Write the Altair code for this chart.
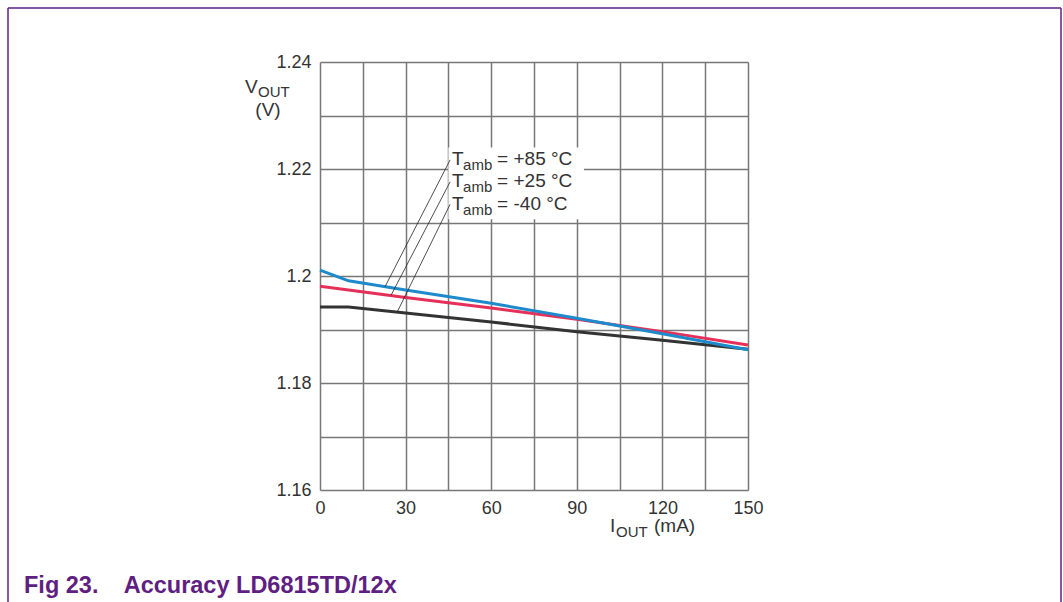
import altair as alt
import pandas as pd

# ---- data ----
current_ma = [0, 10, 30, 60, 90, 120, 150]
v_p85 = [1.2011, 1.1991, 1.1974, 1.1949, 1.1921, 1.1892, 1.1862]
v_p25 = [1.1981, 1.1974, 1.1960, 1.1940, 1.1919, 1.1896, 1.1871]
v_m40 = [1.1942, 1.1942, 1.1931, 1.1914, 1.1896, 1.1880, 1.1863]

x_ticks = [0, 15, 30, 45, 60, 75, 90, 105, 120, 135, 150]
y_ticks = [1.16, 1.17, 1.18, 1.19, 1.2, 1.21, 1.22, 1.23, 1.24]
y_label_text = ["1.16", "1.18", "1.2", "1.22", "1.24"]

label_names = ["= +85 °C", "= +25 °C", "= -40 °C"]
label_x = [46.3, 46.3, 46.3]
label_v = [1.2208, 1.2166, 1.2124]
leader_x1 = [45.6, 45.6, 45.6]
leader_v1 = [1.2217, 1.2176, 1.2134]
leader_x2 = [22.8, 24.9, 27.0]
leader_v2 = [1.1980, 1.1964, 1.1932]
box_x = [45.0]
box_x2 = [92.5]
box_v = [1.2240]
box_v2 = [1.2106]

PURPLE = "#5f1f82"
FONT = "Liberation Sans"
GRID = "#777777"

xs = alt.Scale(domain=[0, 150], nice=False, zero=False)
ys = alt.Scale(domain=[1.16, 1.24], nice=False, zero=False)

x_axis = alt.Axis(values=x_ticks, title=None, grid=True, ticks=False, domain=False,
                  labelExpr="datum.value % 30 == 0 ? datum.label : ''",
                  labelFlush=False, labelOverlap=False, labelPadding=9,
                  labelFontSize=18, labelFont=FONT, labelColor="#333333",
                  gridColor=GRID, gridWidth=1.5)
y_axis = alt.Axis(values=y_ticks, title=None, grid=True, ticks=False, domain=False,
                  labelExpr="indexof(" + str(y_label_text) + ", format(datum.value, '.3~f')) >= 0 ? format(datum.value, '.3~f') : ''",
                  labelFlush=False, labelOverlap=False, labelPadding=9,
                  labelFontSize=18, labelFont=FONT, labelColor="#333333",
                  gridColor=GRID, gridWidth=1.5)


def X(field):
    return alt.X(field, type="quantitative", scale=xs, axis=x_axis)


def Y(field):
    return alt.Y(field, type="quantitative", scale=ys, axis=y_axis)


def series_chart(vals, color):
    d = pd.DataFrame({"i": current_ma, "v": vals})
    return alt.Chart(d).mark_line(color=color, strokeWidth=3).encode(x=X("i"), y=Y("v"))


box = alt.Chart(pd.DataFrame({"x": box_x, "x2": box_x2, "v": box_v, "v2": box_v2})).mark_rect(
    color="white").encode(x=X("x"), x2="x2", y=Y("v"), y2="v2")

leaders = alt.Chart(pd.DataFrame({"x": leader_x1, "x2": leader_x2, "v": leader_v1, "v2": leader_v2})).mark_rule(
    color="#222222", strokeWidth=0.8).encode(x=X("x"), x2="x2", y=Y("v"), y2="v2")

lab_df = pd.DataFrame({"x": label_x, "v": label_v, "rest": label_names,
                       "T": ["T"] * 3, "amb": ["amb"] * 3})
lab_T = alt.Chart(lab_df).mark_text(align="left", baseline="alphabetic", fontSize=19, font=FONT,
                                    color="#333333").encode(x=X("x"), y=Y("v"), text="T")
lab_amb = alt.Chart(lab_df).mark_text(align="left", baseline="alphabetic", fontSize=15, font=FONT,
                                      color="#333333", dx=11, dy=5).encode(x=X("x"), y=Y("v"), text="amb")
lab_rest = alt.Chart(lab_df).mark_text(align="left", baseline="alphabetic", fontSize=19, font=FONT,
                                       color="#333333", dx=45).encode(x=X("x"), y=Y("v"), text="rest")

one = pd.DataFrame({"a": [0]})


def ptext(txt, x, y, size, color="#333333", weight="normal", align="left"):
    return alt.Chart(one).mark_text(text=txt, align=align, baseline="alphabetic", fontSize=size,
                                    font=FONT, color=color, fontWeight=weight).encode(
        x=alt.value(x), y=alt.value(y))


# axis titles (with subscripts)
yt1 = ptext("V", -75, 31, 19)
yt2 = ptext("OUT", -62, 35, 15)
yt3 = ptext("(V)", -52, 54, 19, align="center")
xt1 = ptext("I", 290, 470, 19)
xt2 = ptext("OUT", 296, 475, 15)
xt3 = ptext("(mA)", 334, 470, 19)

caption = ptext("Fig 23.\u00a0\u00a0\u00a0 Accuracy LD6815TD/12x", -296, 531, 23.5, color=PURPLE, weight="bold")

# figure frame (top, left, right)
frame_top = alt.Chart(one).mark_rule(color=PURPLE, strokeWidth=1.5).encode(
    x=alt.value(-312), x2=alt.value(741), y=alt.value(-54))
frame_left = alt.Chart(one).mark_rule(color=PURPLE, strokeWidth=1.5).encode(
    x=alt.value(-312), y=alt.value(-54), y2=alt.value(545))
frame_right = alt.Chart(one).mark_rule(color=PURPLE, strokeWidth=1.5).encode(
    x=alt.value(741), y=alt.value(-54), y2=alt.value(545))

chart = alt.layer(
    series_chart(v_m40, "#333333"),
    series_chart(v_p25, "#e5305a"),
    series_chart(v_p85, "#1d8bcb"),
    box, leaders, lab_T, lab_amb, lab_rest,
    yt1, yt2, yt3, xt1, xt2, xt3, caption,
    frame_top, frame_left, frame_right,
).properties(
    width=428, height=428,
    autosize=alt.AutoSizeParams(type="none"),
    padding={"left": 320, "top": 62, "right": 315, "bottom": 112},
    background="white",
).configure_view(stroke=None)

chart.save("out.html", embed_options={"renderer": "svg", "actions": False})
